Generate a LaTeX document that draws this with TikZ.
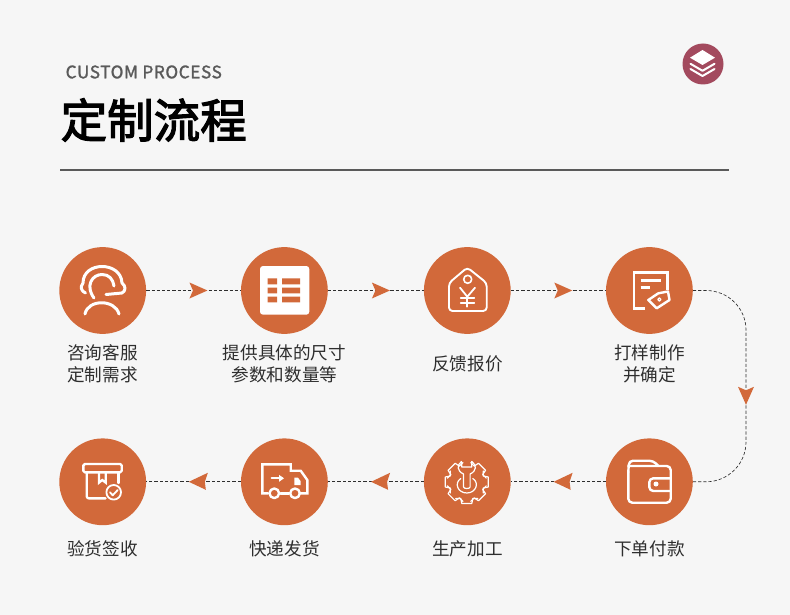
\documentclass[tikz,border=0pt]{standalone}
\usepackage{fontspec}
\setmainfont{Noto Sans CJK SC}
\newfontfamily\titlefont[FakeBold=2.6]{Noto Sans CJK SC}
\newfontfamily\subfont[FakeBold=1.4,LetterSpace=3.4]{Noto Sans CJK SC}
\usetikzlibrary{decorations.markings}
\definecolor{bg}{HTML}{F6F6F6}
\definecolor{rust}{HTML}{D2693A}
\definecolor{plum}{HTML}{A34A5E}
\definecolor{ink}{HTML}{2E2E2E}
\definecolor{rulegray}{HTML}{5A5A5A}
\tikzset{
  stepdisc/.style={circle,fill=rust,minimum size=86.8pt,inner sep=0pt},
  caption/.style={align=center,text=ink,inner sep=0pt,font=\fontsize{17.6}{21.5}\selectfont},
  flowline/.style={draw=ink,line width=.75pt,dash pattern=on 3.2pt off 2pt},
  fwd/.style={postaction={decorate},decoration={markings,mark=at position #1 with {\fill[rust] (0,0)--(-18,8)--(-14.5,0)--(-18,-8)--cycle;}}},
  back/.style={postaction={decorate},decoration={markings,mark=at position #1 with {\fill[rust] (0,0)--(-19,9)--(-16,0)--(-17,-8)--cycle;}}},
  ico/.style={draw=white,line width=#1,line cap=round,line join=round},
  ico/.default=2.4pt
}
\begin{document}
\begin{tikzpicture}[x=1pt,y=-1pt]
\useasboundingbox (0,0) rectangle (790,615);
\fill[bg] (0,0) rectangle (790,615);
% header
\node[anchor=west,inner sep=0pt,text=rulegray,font=\fontsize{17.2}{20}\selectfont\subfont] (sub) at (65.5,72) {CUSTOM PROCESS};
\node[anchor=west,inner sep=0pt,text=black,font=\fontsize{46.5}{50}\selectfont\titlefont] (ttl) at (60.5,120) {定制流程};
\coordinate (ruleL) at (60,170);
\coordinate (ruleR) at (729,170);
\draw[rulegray,line width=1.6pt] (ruleL) -- (ruleR);
\node[circle,fill=plum,minimum size=41pt,inner sep=0pt] (badge) at (703,64) {};
\fill[white,line join=round] (690,57.7)--(702.5,50)--(715,57.7)--(702.5,65)--cycle;
\draw[ico=2pt] (690.5,63.8)--(702.5,70.8)--(714.5,63.8);
\draw[ico=2pt] (690.5,69)--(702.5,76)--(714.5,69);
% discs
\node[stepdisc] (s1) at (102.7,290.5) {};
\node[stepdisc] (s2) at (284.4,290.5) {};
\node[stepdisc] (s3) at (467.3,290.5) {};
\node[stepdisc] (s4) at (649.4,290.5) {};
\node[stepdisc] (s5) at (649.4,481.8) {};
\node[stepdisc] (s6) at (467.3,481.8) {};
\node[stepdisc] (s7) at (284.4,481.8) {};
\node[stepdisc] (s8) at (102.7,481.8) {};
% connectors
\draw[flowline,fwd=.647] (s1) -- (s2);
\draw[flowline,fwd=.647] (s2) -- (s3);
\draw[flowline,fwd=.647] (s3) -- (s4);
\draw[flowline,line width=.65pt,fwd=.571] (s4.east) -- (706,290.5) .. controls (728,290.5) and (746,308) .. (746,330) -- (746,442) .. controls (746,464) and (728,481.8) .. (706,481.8) -- (s5.east);
\draw[flowline,back=.55] (s5) -- (s6);
\draw[flowline,back=.55] (s6) -- (s7);
\draw[flowline,back=.55] (s7) -- (s8);
% captions
\node[caption] (t1) at (102.5,364) {咨询客服\\定制需求};
\node[caption] (t2) at (284.5,364) {提供具体的尺寸\\参数和数量等};
\node[caption] (t3) at (467.5,364) {反馈报价};
\node[caption] (t4) at (649.5,364) {打样制作\\并确定};
\node[caption] (t5) at (649.5,549) {下单付款};
\node[caption] (t6) at (467.5,549) {生产加工};
\node[caption] (t7) at (284.5,549) {快递发货};
\node[caption] (t8) at (102.5,549) {验货签收};
% icon 1 headset
\draw[ico=3pt] (85.5,293) .. controls (81,291) and (80,287) .. (83,283) .. controls (83,261) and (121,261) .. (122,283) .. controls (126,286) and (126,291) .. (122,293) -- (106,294.5);
\draw[ico=3pt] (94,298) .. controls (85,286) and (92,274.5) .. (102,274.5) .. controls (109,274.5) and (113,279) .. (114,286);
\draw[ico=3pt] (85,314) .. controls (88,299) and (115,299) .. (119,314);
% icon 2 table
\fill[white,rounded corners=3pt] (260,266) rectangle (309.3,314.7);
\fill[rust] (267.7,278.3) rectangle (277,284.3) (282,278.3) rectangle (300,284.3)
            (267.7,287.7) rectangle (277,293.3) (282,287.7) rectangle (300,293.3)
            (267.7,296.7) rectangle (277,302.3) (282,296.7) rectangle (300,302.3);
% icon 3 price tag
\draw[ico=1.9pt,rounded corners=3.5pt] (467.3,267.5)--(486.7,283)--(486.7,311)--(449,311)--(449,283)--cycle;
\draw[ico=1.6pt] (467.7,279.3) circle (4);
\draw[ico=1.8pt] (460,287.7)--(467.3,296.7)--(475,287.7);
\draw[ico=1.8pt] (467.3,296.7)--(467.3,306.7);
\draw[ico=1.8pt] (460.7,298.3)--(474.3,298.3);
\draw[ico=1.8pt] (460.7,302.7)--(474.3,302.7);
% icon 4 document and tag
\draw[ico=2.6pt,line cap=butt,line join=miter] (645,308.3)--(634,308.3)--(634,272.7)--(667.3,272.7)--(667.3,290);
\draw[ico=2.6pt,line cap=butt] (640.7,280.7)--(660.7,280.7);
\draw[ico=2.6pt,line cap=butt] (640.7,287.3)--(650,287.3);
\draw[ico=2.4pt] (648.3,300)--(658.3,293.3)--(668,291.5)--(669.5,300)--(656.7,308.3)--cycle;
\draw[ico=1.2pt] (659.3,299.5) circle (1.6);
% icon 5 wallet
\draw[ico=2.4pt,rounded corners=4pt] (628.3,472)--(628.3,502.7)--(670.7,502.7)--(670.7,466)--(628.3,466);
\draw[ico=2.4pt,rounded corners=4pt] (628.3,472)--(629,460.7)--(653.3,460.7)--(658.3,466);
\draw[ico=2.4pt,rounded corners=4pt] (670.7,478.3)--(649.3,478.3)--(649.3,491)--(670.7,491);
\fill[white] (656,484) circle (2.5);
% icon 6 gear and wrench
\begin{scope}[shift={(466.8,482)}]
\draw[ico=1.2pt] (-5.3,-20.5) -- (-5,-15) -- (5,-15) -- (5,-20.5);
\draw[ico=1.2pt] (-5.3,-20.5) .. controls (-10,-17) and (-10,-11) .. (-3.3,-8) -- (-3.3,5) .. controls (-3.3,7) and (3.3,7) .. (3.3,5) -- (3.3,-8) .. controls (10,-11) and (10,-17) .. (5,-20.5);
\foreach \a in {45,90,...,315}{
  \draw[ico=1.2pt,rotate=\a] (-11,-16.5) -- (-6,-16.5) -- (-5,-21.5) -- (5,-21.5) -- (6,-16.5) -- (11,-16.5);
}
\draw[ico=1.2pt] (-6,-3.5) .. controls (-13,1) and (-9,11) .. (0,11) .. controls (9,11) and (13,1) .. (6,-3.5);
\end{scope}
% icon 7 truck
\draw[ico=2.4pt,line join=miter] (268,493.3)--(262.3,493.3)--(262.3,464.3)--(290.7,464.3)--(290.7,470.7)--(300.7,470.7)--(307.3,480)--(307.3,493.3)--(300.5,493.3);
\draw[ico=2.4pt] (280.5,493.3)--(289,493.3);
\draw[ico=2.4pt] (274.3,493.3) circle (4.8);
\draw[ico=2.4pt] (295,493.3) circle (4.8);
\draw[ico=2pt] (271.7,478.3)--(282,478.3);
\fill[white] (279,474.8)--(284,478.3)--(279,481.8)--cycle;
\fill[white] (294.3,477.7)--(298,477.7)--(300.5,481)--(300.5,485)--(294.3,485)--cycle;
% icon 8 box
\draw[ico=2.4pt,rounded corners=1.5pt] (83.3,464) rectangle (121.7,472.3);
\draw[ico=2.4pt,rounded corners=2pt] (86.7,472.3)--(86.7,498.3)--(105.5,498.3);
\draw[ico=2.4pt] (118.3,472.3)--(118.3,483);
\draw[ico=2.2pt,line join=miter] (99,472.3)--(99,482.7)--(102.3,480)--(105.7,482.7)--(105.7,472.3);
\draw[ico=1.8pt] (113.7,492.3) circle (7.3);
\draw[ico=1.8pt] (110,492.3)--(112.7,495.3)--(117.7,490);
\end{tikzpicture}
\end{document}
